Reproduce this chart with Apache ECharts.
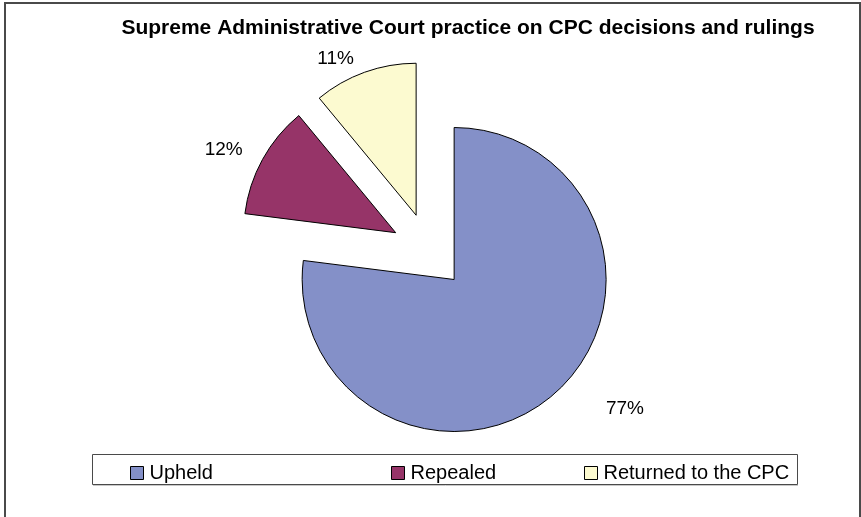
<!DOCTYPE html>
<html>
<head>
<meta charset="utf-8">
<script src="https://cdn.jsdelivr.net/npm/echarts@6/dist/echarts.min.js"></script>
<style>
html,body{margin:0;padding:0;background:#fff;}
#chart{width:861px;height:517px;}
</style>
</head>
<body>
<div id="chart"></div>
<script>
// Data
const titleText = 'Supreme Administrative Court practice on CPC decisions and rulings';
const categories = ['Upheld', 'Repealed', 'Returned to the CPC'];
const values = [77, 12, 11];
const colors = ['#8490C8', '#963468', '#FCFAD0'];

const FONT = '"Liberation Sans", Arial, sans-serif';

// per-slice label line geometry (layout only)
const labelLines = [
  { length: 17, length2: 35 },
  { length: 26, length2: 0 },
  { length: 17, length2: 0 }
];
const labelShiftX = [0, 8, 0];
const labelShiftY = [2, 3, 3];

const pieData = categories.map((name, i) => ({
  name: name,
  value: values[i],
  selected: true,
  itemStyle: { color: colors[i] },
  labelLine: { show: false, length: labelLines[i].length, length2: labelLines[i].length2 }
}));

const chart = echarts.init(document.getElementById('chart'), null, { renderer: 'canvas' });

const legendBase = {
  orient: 'horizontal',
  top: 463,
  padding: 0,
  itemWidth: 13,
  itemHeight: 13,
  itemGap: 0,
  icon: 'rect',
  selectedMode: false,
  itemStyle: { borderColor: '#000', borderWidth: 1 },
  textStyle: { fontFamily: FONT, fontSize: 20, color: '#000', padding: [0, 0, 0, 1] }
};

chart.setOption({
  animation: false,
  backgroundColor: '#ffffff',
  color: colors,
  title: {
    text: titleText,
    left: 468,
    textAlign: 'center',
    top: 18,
    padding: 0,
    textStyle: { fontFamily: FONT, fontSize: 21, fontWeight: 'bold', color: '#000' }
  },
  legend: [
    Object.assign({}, legendBase, { data: [categories[0]], left: 130 }),
    Object.assign({}, legendBase, { data: [categories[1]], left: 391 }),
    Object.assign({}, legendBase, { data: [categories[2]], left: 584 })
  ],
  graphic: [
    {
      type: 'rect', silent: true, z: -1,
      shape: { x: 5, y: 3, width: 855, height: 530 },
      style: { fill: 'none', stroke: '#4a4a4a', lineWidth: 2 }
    },
    {
      type: 'rect', silent: true, z: -1,
      shape: { x: 92.5, y: 454.5, width: 705, height: 30 },
      style: { fill: '#fff', stroke: '#4a4a4a', lineWidth: 1 }
    },
    {
      type: 'line', silent: true, z: -1,
      shape: { x1: 93, y1: 485.5, x2: 798, y2: 485.5 },
      style: { stroke: '#c8c8c8', lineWidth: 1 }
    }
  ],
  series: [{
    type: 'pie',
    center: [429, 251],
    radius: 152,
    startAngle: 90,
    clockwise: true,
    selectedMode: 'multiple',
    selectedOffset: 38,
    avoidLabelOverlap: false,
    percentPrecision: 0,
    itemStyle: { borderColor: '#000', borderWidth: 1 },
    select: { itemStyle: { borderColor: '#000', borderWidth: 1 } },
    emphasis: { disabled: true },
    label: {
      show: true,
      position: 'outside',
      formatter: '{d}%',
      fontFamily: FONT,
      fontSize: 19,
      color: '#000',
      distanceToLabelLine: 5
    },
    labelLine: { show: false },
    labelLayout: function (params) {
      return { dx: labelShiftX[params.dataIndex] || 0, dy: labelShiftY[params.dataIndex] || 0 };
    },
    data: pieData
  }]
});
</script>
</body>
</html>
